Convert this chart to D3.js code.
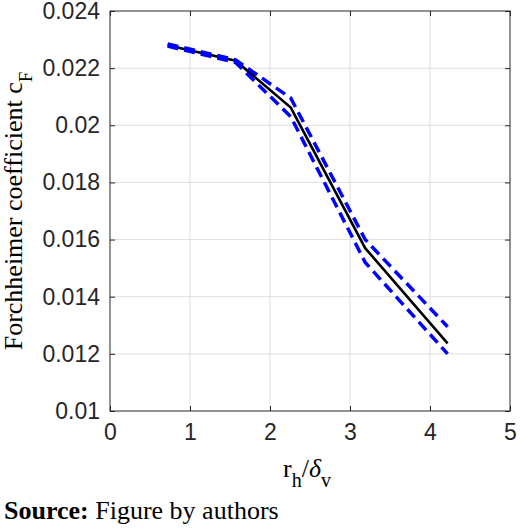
<!DOCTYPE html>
<html>
<head>
<meta charset="utf-8">
<script src="https://cdn.jsdelivr.net/npm/d3@7"></script>
<style>
  body { margin: 0; background: #fff; }
  svg { display: block; }
</style>
</head>
<body>
<svg id="chart" width="520" height="530"></svg>
<script>
// data
var ratioX   = [0.72, 1.57, 2.26, 3.19, 4.22];
var cfMean   = [0.0228, 0.02226, 0.02062, 0.0157, 0.01237];
var cfUpper  = [0.02285, 0.02229, 0.02095, 0.0160, 0.01295];
var cfLower  = [0.02277, 0.02220, 0.02030, 0.0152, 0.0120];
var xTicks   = [0, 1, 2, 3, 4, 5];
var yTicks   = [0.01, 0.012, 0.014, 0.016, 0.018, 0.02, 0.022, 0.024];

var svg = d3.select("#chart"),
    margin = {top: 11, right: 10, bottom: 119, left: 110},
    width = +svg.attr("width") - margin.left - margin.right,
    height = +svg.attr("height") - margin.top - margin.bottom,
    g = svg.append("g").attr("transform", "translate(" + margin.left + "," + margin.top + ")");

var x = d3.scaleLinear().domain([0, 5]).range([0, width]);
var y = d3.scaleLinear().domain([0.01, 0.024]).range([height, 0]);

var axisColor = "#262626";

/* grid */
g.append("g").selectAll("line")
    .data(xTicks.slice(1, -1))
  .enter().append("line")
    .attr("x1", function(d) { return x(d); })
    .attr("x2", function(d) { return x(d); })
    .attr("y1", 0).attr("y2", height)
    .attr("stroke", "#dfdfdf");

g.append("g").selectAll("line")
    .data(yTicks.slice(1, -1))
  .enter().append("line")
    .attr("y1", function(d) { return y(d); })
    .attr("y2", function(d) { return y(d); })
    .attr("x1", 0).attr("x2", width)
    .attr("stroke", "#dfdfdf");

/* lines */
var line = d3.line()
    .x(function(d) { return x(d[0]); })
    .y(function(d) { return y(d[1]); });

g.append("path")
    .datum(d3.zip(ratioX, cfMean))
    .attr("fill", "none")
    .attr("stroke", "#000")
    .attr("stroke-width", 2.6)
    .attr("d", line);

[cfUpper, cfLower].forEach(function(s) {
  g.append("path")
      .datum(d3.zip(ratioX, s))
      .attr("fill", "none")
      .attr("stroke", "#0000ff")
      .attr("stroke-width", 3.5)
      .attr("stroke-dasharray", "11,6")
      .attr("d", line);
});

/* axes with inward ticks, box */
function styleAxis(sel) {
  sel.select(".domain").remove();
  sel.selectAll(".tick line").attr("stroke", axisColor);
  sel.selectAll("text").attr("fill", axisColor)
      .style("font-family", "Arial, 'Liberation Sans', sans-serif")
      .style("font-size", "23px");
}

g.append("g")
    .attr("transform", "translate(0," + height + ")")
    .call(d3.axisBottom(x).tickValues(xTicks).tickSizeInner(-5).tickSizeOuter(0).tickPadding(13).tickFormat(d3.format("d")))
    .call(styleAxis);

g.append("g")
    .call(d3.axisLeft(y).tickValues(yTicks).tickSizeInner(-5).tickSizeOuter(0).tickPadding(10).tickFormat(function(d) { return +d.toFixed(3); }))
    .call(styleAxis);

g.append("g")
    .call(d3.axisTop(x).tickValues(xTicks).tickSizeInner(-5).tickSizeOuter(0).tickFormat(""))
    .call(styleAxis);

g.append("g")
    .attr("transform", "translate(" + width + ",0)")
    .call(d3.axisRight(y).tickValues(yTicks).tickSizeInner(-5).tickSizeOuter(0).tickFormat(""))
    .call(styleAxis);

g.append("rect")
    .attr("width", width)
    .attr("height", height)
    .attr("fill", "none")
    .attr("stroke", axisColor)
    .attr("stroke-width", 1);

/* axis labels */
var serif = "'Times New Roman', 'Liberation Serif', serif";

var yl = svg.append("text")
    .attr("transform", "translate(22," + (margin.top + height / 2) + ") rotate(-90)")
    .attr("text-anchor", "middle")
    .attr("fill", "#000")
    .style("font-family", serif)
    .style("font-size", "26px");
yl.append("tspan").text("Forchheimer coefficient c");
yl.append("tspan").attr("dy", 10).style("font-size", "19px").text("F");

var xl = svg.append("text")
    .attr("x", 307)
    .attr("y", 477)
    .attr("text-anchor", "middle")
    .attr("fill", "#000")
    .style("font-family", serif)
    .style("font-size", "26px");
xl.append("tspan").text("r");
xl.append("tspan").attr("dy", 10).style("font-size", "20px").text("h");
xl.append("tspan").attr("dy", -10).text("/");
xl.append("tspan").style("font-style", "italic").text("δ");
xl.append("tspan").attr("dy", 10).style("font-size", "20px").text("v");

/* source note */
var src = svg.append("text")
    .attr("x", 4)
    .attr("y", 519)
    .attr("fill", "#000")
    .style("font-family", serif)
    .style("font-size", "26px");
src.append("tspan").attr("font-weight", "bold").text("Source:");
src.append("tspan").text(" Figure by authors");
</script>
</body>
</html>
